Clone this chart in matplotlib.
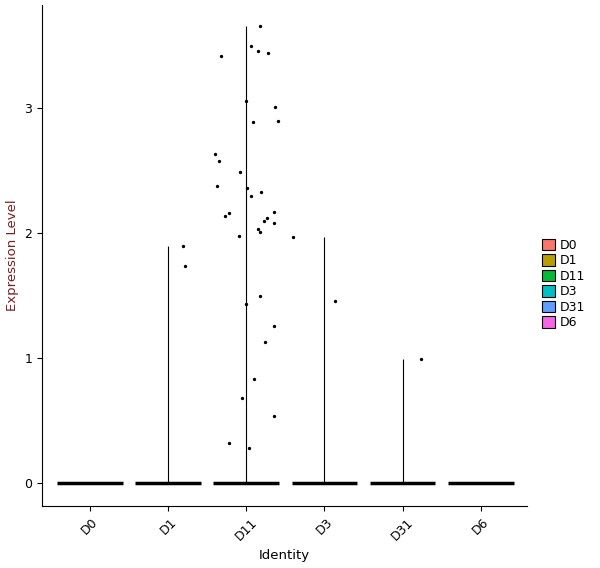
import matplotlib
matplotlib.use("Agg")
import matplotlib.pyplot as plt
from matplotlib.patches import Patch

categories = ["D0", "D1", "D11", "D3", "D31", "D6"]
colors = ["#F8766D", "#B79F00", "#00BA38", "#00BFC4", "#619CFF", "#F564E3"]
violin_max = [0.0, 1.90, 3.66, 1.97, 0.99, 0.0]

# non-zero points: (category index, jitter offset in category units, value)
pt_cat = [1, 1] + [2]*34 + [3, 3, 4]
pt_jit = [0.19, 0.22,
          0.17, 0.06, 0.15, 0.28, -0.32, 0.37, 0.0, 0.40, 0.09, -0.40, -0.35,
          -0.08, -0.38, 0.01, 0.19, 0.06, -0.22, 0.35, -0.27, 0.27, 0.23, 0.36,
          0.15, 0.18, -0.09, 0.18, 0.0, 0.35, 0.24, 0.10, -0.06, 0.36, -0.22, 0.03,
          -0.40, 0.14, 0.23]
pt_val = [1.90, 1.74,
          3.66, 3.50, 3.46, 3.44, 3.42, 3.01, 3.06, 2.90, 2.89, 2.63, 2.58,
          2.49, 2.38, 2.36, 2.33, 2.30, 2.16, 2.17, 2.14, 2.12, 2.10, 2.08,
          2.03, 2.01, 1.98, 1.50, 1.43, 1.26, 1.13, 0.83, 0.68, 0.54, 0.32, 0.28,
          1.97, 1.46, 0.99]

fig = plt.figure(figsize=(6, 5.68), dpi=100)
ax = fig.add_axes([0.07, 0.109, 0.808, 0.882])
pos = list(range(1, len(categories) + 1))

for p, m in zip(pos, violin_max):
    ax.hlines(0, p - 0.42, p + 0.42, color="black", lw=2.5)
    if m > 0:
        ax.vlines(p, 0, m, color="black", lw=0.8)

ax.scatter([pos[c] + j for c, j in zip(pt_cat, pt_jit)], pt_val, s=2, color="black", zorder=3)

ax.set_xlim(0.386, 6.59)
ax.set_ylim(-0.184, 3.824)
ax.set_xticks(pos)
ax.set_xticklabels(categories, rotation=45, fontsize=9)
ax.set_yticks([0, 1, 2, 3])
ax.tick_params(labelsize=9)
for s in ["top", "right"]:
    ax.spines[s].set_visible(False)
ax.set_xlabel("Identity", fontsize=9.5)
ax.set_ylabel("Expression Level", fontsize=9.5, color="#7A1F1F")

handles = [Patch(facecolor=c, edgecolor="black", lw=0.8) for c in colors]
fig.legend(handles, categories, loc="center left", bbox_to_anchor=(0.885, 0.5),
           frameon=False, fontsize=9, handlelength=1.0, handleheight=1.0,
           handletextpad=0.4, labelspacing=0.2)
fig.savefig("out.png", dpi=100)
